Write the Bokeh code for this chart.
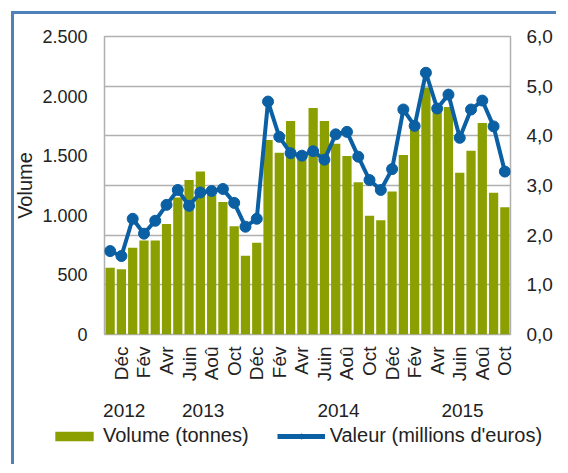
import numpy as np
from bokeh.plotting import figure
from bokeh.layouts import column
from bokeh.models import Range1d, LinearAxis, FixedTicker, Legend, LegendItem, ColumnDataSource
from bokeh.embed import file_html
from bokeh.resources import INLINE

# ---- data ----
month_names = ["Jan", "Fév", "Mar", "Avr", "Mai", "Juin", "Juil", "Aoû", "Sep", "Oct", "Nov", "Déc"]
months = ["Nov", "Déc"] + month_names + month_names + month_names[:10]
years = ["2012"] * 2 + ["2013"] * 12 + ["2014"] * 12 + ["2015"] * 10
shown_months = ["Déc", "Fév", "Avr", "Juin", "Aoû", "Oct"]

volume = [561, 547, 728, 789, 789, 928, 1150, 1297, 1367, 1170, 1111, 908,
          661, 769, 1631, 1525, 1792, 1500, 1900, 1792, 1600, 1497, 1278, 997,
          958, 1200, 1506, 1720, 2072, 1870, 1908, 1358, 1542, 1775, 1189, 1067]
valeur = [1.68, 1.58, 2.33, 2.03, 2.29, 2.61, 2.91, 2.59, 2.86, 2.89, 2.93, 2.65,
          2.17, 2.33, 4.69, 3.98, 3.65, 3.60, 3.69, 3.52, 4.03, 4.08, 3.58, 3.11,
          2.91, 3.33, 4.53, 4.20, 5.27, 4.55, 4.83, 3.96, 4.53, 4.71, 4.19, 3.28]

vol_ticks = [0, 500, 1000, 1500, 2000, 2500]
vol_tick_labels = ["0", "500", "1.000", "1.500", "2.000", "2.500"]
val_ticks = [0, 1, 2, 3, 4, 5, 6]
val_tick_labels = ["0,0", "1,0", "2,0", "3,0", "4,0", "5,0", "6,0"]

series_names = ["Volume (tonnes)", "Valeur (millions d'euros)"]
vol_axis_title = "Volume"

# ---- styles ----
GREEN = "#8BA000"
BLUE = "#0B5FA3"
GRID = "#B0B0B0"
TXT = "#222222"
FONT = "Liberation Sans"

n = len(months)
xs = list(range(n))
src = ColumnDataSource(dict(x=xs, volume=volume, valeur=valeur))

W = 556
p = figure(width=W, height=419,
           x_range=Range1d(-0.5, n - 0.5), y_range=Range1d(0, 6),
           y_axis_location="right",
           output_backend="svg", toolbar_location=None,
           min_border_left=104, min_border_right=46,
           min_border_top=36, min_border_bottom=83)
p.extra_y_ranges = {"vol": Range1d(0, 2500)}
p.border_fill_alpha = 0
p.frame_align = False

p.outline_line_color = GRID
p.outline_line_width = 1.5
p.xgrid.visible = False
p.ygrid.grid_line_color = GRID
p.ygrid.grid_line_width = 1.5
p.ygrid.ticker = FixedTicker(ticks=val_ticks)


def clean(ax):
    ax.axis_line_color = None
    ax.major_tick_line_color = None
    ax.minor_tick_line_color = None
    ax.major_tick_out = 0
    ax.major_tick_in = 0
    ax.minor_tick_out = 0
    ax.minor_tick_in = 0
    ax.major_label_text_font = FONT
    ax.major_label_text_color = TXT


# right axis (valeur)
ra = p.yaxis[0]
ra.ticker = FixedTicker(ticks=val_ticks)
ra.major_label_overrides = {t: l for t, l in zip(val_ticks, val_tick_labels)}
clean(ra)
ra.major_label_standoff = 16
ra.major_label_text_font_size = "19px"

# left axis (volume)
la = LinearAxis(y_range_name="vol", ticker=FixedTicker(ticks=vol_ticks),
                axis_label=vol_axis_title)
la.major_label_overrides = {t: l for t, l in zip(vol_ticks, vol_tick_labels)}
clean(la)
la.major_label_standoff = 17
la.axis_label_standoff = 3
la.major_label_text_font_size = "18px"
la.axis_label_text_font = FONT
la.axis_label_text_font_size = "20px"
la.axis_label_text_font_style = "normal"
la.axis_label_text_color = TXT
p.add_layout(la, "left")

# month axis
ma = p.xaxis[0]
month_ticks = [i for i in xs if months[i] in shown_months]
ma.ticker = FixedTicker(ticks=month_ticks)
ma.major_label_overrides = {i: months[i] for i in month_ticks}
ma.major_label_orientation = np.pi / 2
clean(ma)
ma.major_label_standoff = 12
ma.major_label_text_font_size = "19px"

# year axis
uniq_years = []
for y in years:
    if y not in uniq_years:
        uniq_years.append(y)
year_pos = [float(np.mean([i for i in xs if years[i] == y]) + 0.75) for y in uniq_years]
ya = LinearAxis(ticker=FixedTicker(ticks=year_pos))
ya.major_label_overrides = {pos: y for pos, y in zip(year_pos, uniq_years)}
clean(ya)
ya.major_label_standoff = 19
ya.major_label_text_font_size = "19px"
p.add_layout(ya, "below")

# glyphs
bars = p.vbar(x="x", top="volume", width=0.82, source=src, y_range_name="vol",
              fill_color=GREEN, line_color=None)
ln = p.line(x="x", y="valeur", source=src, line_color=BLUE, line_width=4)
mk = p.scatter(x="x", y="valeur", source=src, size=11, fill_color=BLUE, line_color=BLUE)

# legend strip (separate small figure under the chart; its glyphs lie outside its ranges)
p2 = figure(width=W, height=45, x_range=Range1d(-100, -99), y_range=Range1d(0, 1),
            x_axis_location=None, y_axis_location=None,
            output_backend="svg", toolbar_location=None,
            min_border_left=0, min_border_right=0, min_border_top=0, min_border_bottom=0)
p2.frame_align = False
p2.grid.visible = False
p2.outline_line_color = None
p2.border_fill_alpha = 0
p2.background_fill_alpha = 0
lb = p2.vbar(x="x", top="volume", width=0.82, source=src, fill_color=GREEN, line_color=None)
ll = p2.line(x="x", y="valeur", source=src, line_color=BLUE, line_width=5)
lm = p2.scatter(x="x", y="valeur", source=src, size=9, fill_color=BLUE, line_color=BLUE)
legend = Legend(items=[LegendItem(label=series_names[0], renderers=[lb]),
                       LegendItem(label=series_names[1], renderers=[ll, lm])],
                orientation="horizontal", location=(50, 17),
                glyph_width=48, glyph_height=12, label_standoff=5, spacing=28,
                padding=0, margin=0, border_line_color=None,
                background_fill_alpha=0,
                label_text_font=FONT, label_text_font_size="20px",
                label_text_color=TXT, label_height=20)
p2.add_layout(legend, "center")

layout = column(p, p2, spacing=0,
                styles={"box-shadow": "inset 11px 11px 0px 0px #ffffff, inset 14px 14px 0px 0px #4F81BD"})

open("out.html", "w").write(file_html(layout, INLINE))
